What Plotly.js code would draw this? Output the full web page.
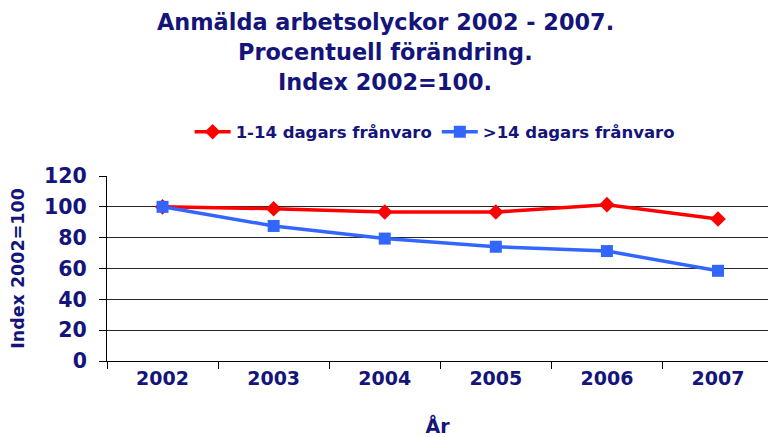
<!DOCTYPE html>
<html>
<head>
<meta charset="utf-8">
<script src="https://cdn.plot.ly/plotly-3.0.1.min.js"></script>
<style>html,body{margin:0;padding:0;background:#fff;}#chart{width:768px;height:437px;}</style>
</head>
<body>
<div id="chart"></div>
<script>
const years = ['2002', '2003', '2004', '2005', '2006', '2007'];
const shortAbsence = [100, 98.8, 96.6, 96.6, 101.4, 92.1];
const longAbsence = [100, 87.6, 79.4, 74.1, 71.3, 58.5];
const seriesNames = ['1-14 dagars frånvaro', '>14 dagars frånvaro'];
const titleLines = ['Anmälda arbetsolyckor 2002 - 2007.', 'Procentuell förändring.', 'Index 2002=100.'];
const yTicks = [0, 20, 40, 60, 80, 100, 120];

const navy = '#14147a';
const fontFam = 'DejaVu Sans, Arial, sans-serif';

const traces = [
  {
    x: years, y: shortAbsence, name: seriesNames[0], type: 'scatter', mode: 'lines+markers',
    line: {color: '#ff0000', width: 3.5},
    marker: {symbol: 'diamond', size: 12, color: '#ff0000'}
  },
  {
    x: years, y: longAbsence, name: seriesNames[1], type: 'scatter', mode: 'lines+markers',
    line: {color: '#3366ff', width: 3.5},
    marker: {symbol: 'square', size: 12, color: '#3366ff'}
  }
];

// title lines placed individually (paper y computed from plot area: top 176, height 185)
const titleY = [22, 52, 82];
const annotations = titleLines.map((t, i) => ({
  text: t, xref: 'paper', yref: 'paper',
  x: (385 - 107) / 661, y: (361 - titleY[i]) / 185,
  xanchor: 'center', yanchor: 'middle', showarrow: false,
  font: {family: fontFam, size: 22.4, color: navy, weight: 'bold'}
}));

const layout = {
  width: 768, height: 437,
  margin: {l: 107, r: 0, t: 176, b: 76},
  paper_bgcolor: '#ffffff', plot_bgcolor: '#ffffff',
  font: {family: fontFam, color: navy},
  annotations: annotations,
  showlegend: true,
  legend: {
    orientation: 'h', x: 0.125, xanchor: 'left', y: (361 - 132) / 185, yanchor: 'middle',
    font: {family: fontFam, size: 16.5, color: navy, weight: 'bold'},
    itemwidth: 36, tracegroupgap: 0, bgcolor: 'rgba(0,0,0,0)'
  },
  xaxis: {
    type: 'category', range: [-0.5, 5.45],
    tickson: 'boundaries', ticks: 'outside', ticklen: 7, tickcolor: '#000',
    showline: true, linecolor: '#000', linewidth: 1,
    showgrid: false, zeroline: false,
    tickfont: {family: fontFam, size: 19, color: navy, weight: 'bold'},
    title: {text: 'År', font: {family: fontFam, size: 19, color: navy, weight: 'bold'}, standoff: 31}
  },
  yaxis: {
    range: [0, 120], tickvals: yTicks, ticks: 'outside', ticklen: 7, tickcolor: '#000',
    showline: true, linecolor: '#000', linewidth: 1,
    showgrid: true, gridcolor: '#262626', gridwidth: 1.2, zeroline: false,
    tickfont: {family: fontFam, size: 20.5, color: navy, weight: 'bold'},
    ticklabelstandoff: 8,
    title: {text: 'Index 2002=100', font: {family: fontFam, size: 17.5, color: navy, weight: 'bold'}, standoff: 14}
  }
};

Plotly.newPlot('chart', traces, layout, {displayModeBar: false, staticPlot: true});
</script>
</body>
</html>
